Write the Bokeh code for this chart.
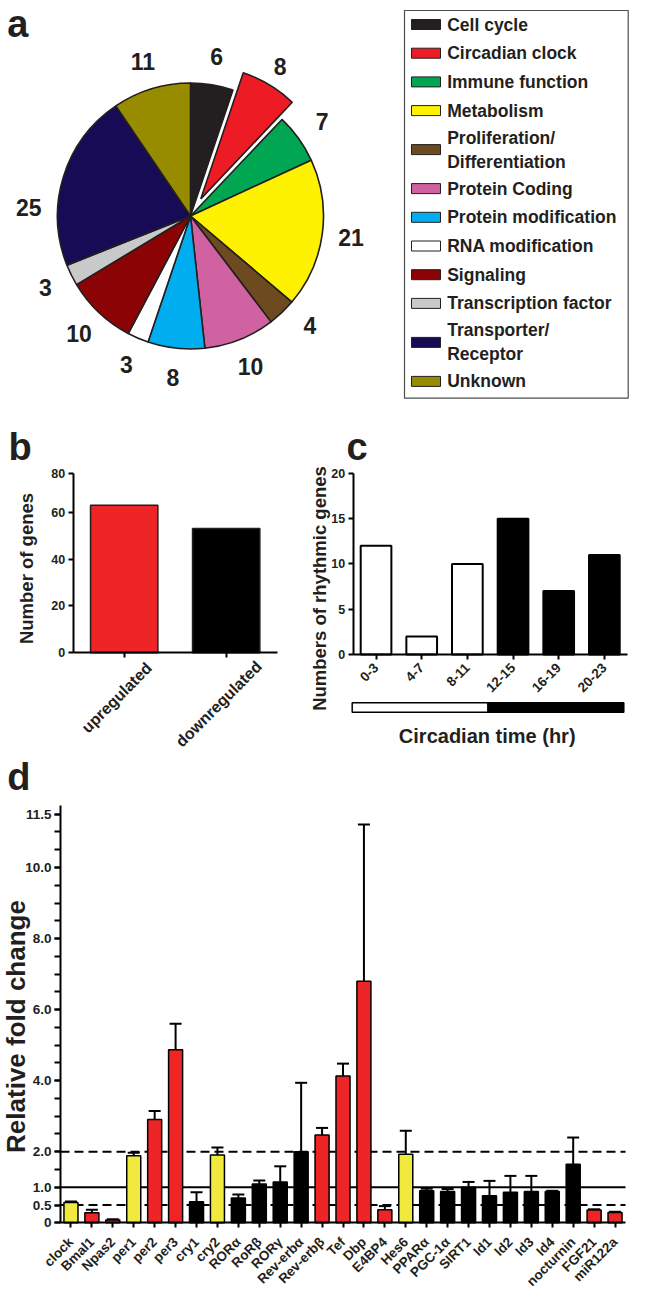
import math
from bokeh.plotting import figure
from bokeh.models import ColumnDataSource, Range1d, FixedTicker, Whisker, TeeHead
from bokeh.layouts import column, row
from bokeh.embed import file_html
from bokeh.resources import INLINE
from bokeh.core.properties import value

FONT = "Liberation Sans"
INK = "#231f20"

# ---------------- data ----------------
# (a) functional categories of the rhythmic genes
pie_categories = ["Cell cycle", "Circadian clock", "Immune function", "Metabolism",
                  "Proliferation/\nDifferentiation", "Protein Coding", "Protein modification",
                  "RNA modification", "Signaling", "Transcription factor",
                  "Transporter/\nReceptor", "Unknown"]
pie_counts = [6, 8, 7, 21, 4, 10, 8, 3, 10, 3, 25, 11]
pie_colors = ["#231f20", "#ed1c24", "#00a651", "#fff200", "#6d4a1f", "#d062a2",
              "#00aeef", "#ffffff", "#8b0304", "#c8c9cb", "#170b56", "#978c00"]
exploded_category = "Circadian clock"

# (b) up / down regulated
regulation = ["upregulated", "downregulated"]
regulation_counts = [63, 53]
regulation_colors = ["#ee2526", "#000000"]
b_tick_labels = ["0", "20", "40", "60", "80"]

# (c) peak phase of rhythmic genes
ct_bins = ["0-3", "4-7", "8-11", "12-15", "16-19", "20-23"]
ct_counts = [12, 2, 10, 15, 7, 11]
ct_colors = ["#ffffff", "#ffffff", "#ffffff", "#000000", "#000000", "#000000"]
c_ticks = [0, 5, 10, 15, 20]
day_night_start = [0, 12]
day_night_end = [12, 24]
day_night_colors = ["#ffffff", "#000000"]

# (d) qPCR relative fold change
genes = ["clock", "Bmal1", "Npas2", "per1", "per2", "per3", "cry1", "cry2",
         "ROR\u03b1", "RoR\u03b2", "ROR\u03b3", "Rev-erb\u03b1", "Rev-erb\u03b2",
         "Tef", "Dbp", "E4BP4", "Hes6", "PPAR\u03b1", "PGC-1\u03b1", "SIRT1",
         "Id1", "Id2", "Id3", "Id4", "nocturnin", "FGF21", "miR122a"]
fold = [0.57, 0.28, 0.08, 1.89, 2.91, 4.87, 0.59, 1.91, 0.70, 1.09, 1.15, 2.00, 2.47,
        4.13, 6.80, 0.37, 1.93, 0.90, 0.88, 1.00, 0.76, 0.86, 0.88, 0.88, 1.65, 0.36, 0.29]
fold_sem = [0.03, 0.09, 0.02, 0.08, 0.24, 0.73, 0.27, 0.21, 0.10, 0.10, 0.44, 1.94, 0.20,
            0.35, 4.41, 0.10, 0.66, 0.06, 0.07, 0.15, 0.42, 0.46, 0.44, 0.02, 0.75, 0.02, 0.02]
Y, R, K = "#f0e93e", "#ee2526", "#000000"
gene_colors = [Y, R, R, Y, R, R, K, Y, K, K, K, K, R,
               R, R, R, Y, K, K, K, K, K, K, K, K, R, R]
d_tick_values = [0, 0.5, 1, 2, 4, 6, 8, 10, 11.5]
d_tick_labels = ["0", "0.5", "1.0", "2.0", "4.0", "6.0", "8.0", "10.0", "11.5"]
d_minor_step = 0.5
threshold_dashed = [2.0, 0.5]
threshold_solid = [1.0]


# ---------------- helpers ----------------
def make_panel(px0, py0, w, h, xref0, xval0, xpx, yref0, yval0, ypx, axes=True):
    """Figure whose frame fills the whole canvas; (xref0, yref0) page pixel <-> data (xval0, yval0)."""
    xr = Range1d(xval0 + (px0 - xref0) / xpx, xval0 + (px0 + w - xref0) / xpx)
    yr = Range1d(yval0 - (py0 + h - yref0) / ypx, yval0 - (py0 - yref0) / ypx)
    kw = dict(width=w, height=h, x_range=xr, y_range=yr, output_backend="svg",
              toolbar_location=None, min_border=0)
    if not axes:
        kw.update(x_axis_type=None, y_axis_type=None)
    p = figure(**kw)
    p.grid.visible = False
    p.outline_line_color = None

    def M(a, b):
        return (xval0 + (a - xref0) / xpx, yval0 - (b - yref0) / ypx)
    return p, M


def style_axis(ax, size, standoff=3):
    ax.axis_line_width = 2
    ax.axis_line_color = "black"
    ax.major_tick_line_width = 2
    ax.major_tick_line_color = "black"
    ax.major_tick_in = 0
    ax.major_tick_out = 5
    ax.minor_tick_line_color = None
    ax.major_label_text_font = FONT
    ax.major_label_text_font_style = "bold"
    ax.major_label_text_font_size = size
    ax.major_label_text_color = INK
    ax.major_label_standoff = standoff


def put_text(p, pos, text, size, angle=0.0, align="center", baseline="middle", lh=1.2):
    p.text(x=[pos[0]], y=[pos[1]], text=[text], angle=angle, text_font=value(FONT),
           text_font_style="bold", text_font_size=size, text_color=INK,
           text_align=align, text_baseline=baseline, text_line_height=lh)


LETTER_SIZE = 38
LETTER_SHIFT = 17  # rendered baseline sits this many px below the anchor


def put_letter(p, M, x_left, baseline_px, letter):
    put_text(p, M(x_left, baseline_px - LETTER_SHIFT), letter, "%dpx" % LETTER_SIZE,
             align="left", baseline="alphabetic", lh=1.0)


# ================= panel a =================
pa, A = make_panel(0, 0, 646, 405, 0, 0, 1.0, 405, 0, 1.0, axes=False)

PIE_CX, PIE_CY = A(190, 215.5)
PIE_R = 133
EXPLODE = 20
LABEL_R = 162
label_nudge = {"Transporter/\nReceptor": -14.0, "Proliferation/\nDifferentiation": -4.0}

total = sum(pie_counts)
wed = dict(x=[], y=[], start=[], end=[], color=[])
lab = dict(x=[], y=[], text=[])
cum = 0
for cat, n, col in zip(pie_categories, pie_counts, pie_colors):
    a0 = 360.0 * cum / total
    a1 = 360.0 * (cum + n) / total
    mid = math.radians((a0 + a1) / 2)
    off = EXPLODE if cat == exploded_category else 0
    wed["x"].append(PIE_CX + off * math.sin(mid))
    wed["y"].append(PIE_CY + off * math.cos(mid))
    wed["start"].append(math.pi / 2 - math.radians(a0))
    wed["end"].append(math.pi / 2 - math.radians(a1))
    wed["color"].append(col)
    la = mid + math.radians(label_nudge.get(cat, 0.0))
    lr = LABEL_R + 0.6 * off
    lab["x"].append(PIE_CX + lr * math.sin(la))
    lab["y"].append(PIE_CY + lr * math.cos(la))
    lab["text"].append(str(n))
    cum += n

pa.wedge(x="x", y="y", radius=PIE_R, start_angle="start", end_angle="end",
         direction="clock", fill_color="color", line_color=INK, line_width=1.6,
         source=ColumnDataSource(wed))
pa.text(x="x", y="y", text="text", source=ColumnDataSource(lab),
        text_font=value(FONT), text_font_style="bold", text_font_size="23px",
        text_color=INK, text_align="center", text_baseline="middle")

# legend box
lx0, ly0 = A(404, 10)
lx1, ly1 = A(627.7, 397.7)
pa.quad(left=lx0, right=lx1, top=ly0, bottom=ly1, fill_color="white",
        line_color="#4d4d4d", line_width=1.2)
row_y = []
yy = 24.0
prev_lines = 1
for i, cat in enumerate(pie_categories):
    nl = cat.count("\n") + 1
    if i > 0:
        yy += 28.7 + 10.3 * ((prev_lines - 1) + (nl - 1))
    row_y.append(yy)
    prev_lines = nl
sw_x, _ = A(425.5, 0)
tx_x, _ = A(446.7, 0)
leg = ColumnDataSource(dict(y=[A(0, v)[1] for v in row_y], text=pie_categories,
                            color=pie_colors))
pa.rect(x=sw_x, y="y", width=29, height=10, fill_color="color", line_color=INK,
        line_width=1, source=leg)
pa.text(x=tx_x, y="y", text="text", source=leg, text_font=value(FONT),
        text_font_style="bold", text_font_size="17.5px", text_color=INK,
        text_align="left", text_baseline="middle", text_line_height=1.2)
put_letter(pa, A, 6.7, 40.5, "a")

# ================= panels b and c (row from y=405 to y=754) =================
ROW_TOP, ROW_H = 405, 349

B_PX = 2.343
B_TOP = (652.3 - 473.3) / B_PX
pb, Bm = make_panel(0, ROW_TOP, 300, ROW_H, 72.7, -0.5, 102.0, 652.3, 0, B_PX)
pb.vbar(x=list(range(len(regulation))), top=regulation_counts, width=0.66,
        fill_color=regulation_colors, line_color=INK, line_width=1.5)
for ax in pb.axis:
    style_axis(ax, "12.5px")
b_pos = [0, 20, 40, 60, B_TOP]
pb.yaxis.fixed_location = -0.5
pb.yaxis.bounds = (0, B_TOP)
pb.yaxis.ticker = FixedTicker(ticks=b_pos)
pb.yaxis.major_label_overrides = {v: t for v, t in zip(b_pos, b_tick_labels)}
pb.xaxis.fixed_location = 0
pb.xaxis.bounds = (-0.5, len(regulation) - 0.5)
pb.xaxis.ticker = FixedTicker(ticks=list(range(len(regulation))))
pb.xaxis.major_label_overrides = {i: "" for i in range(len(regulation))}
# slanted category names, centred a little left of their tick
for i, name in enumerate(regulation):
    tick_px = 72.7 + (i + 0.5) * 102.0
    L = 0.56 * 16 * len(name)
    cy = 657 + 0.707 * (L + 15) / 2
    put_text(pb, Bm(tick_px - 7.5, cy), name, "16px", angle=math.pi / 4)
put_text(pb, Bm(26, 568), "Number of genes", "18.5px", angle=math.pi / 2)
put_letter(pb, Bm, 8, 463, "b")

C_PX = (654 - 472.9) / 20.0
pc, Cm = make_panel(300, ROW_TOP, 346, ROW_H, 352.7, -0.5, 274 / 6.0, 654, 0, C_PX)
pc.vbar(x=list(range(len(ct_bins))), top=ct_counts, width=0.672,
        fill_color=ct_colors, line_color="black", line_width=2)
for ax in pc.axis:
    style_axis(ax, "12.5px")
pc.yaxis.fixed_location = -0.5
pc.yaxis.bounds = (0, 20)
pc.yaxis.ticker = FixedTicker(ticks=c_ticks)
pc.xaxis.fixed_location = 0
pc.xaxis.bounds = (-0.5, len(ct_bins) - 0.5)
pc.xaxis.ticker = FixedTicker(ticks=list(range(len(ct_bins))))
pc.xaxis.major_label_overrides = {i: t for i, t in enumerate(ct_bins)}
pc.xaxis.major_label_orientation = math.pi / 4
pc.xaxis.major_label_text_font_size = "13.5px"
pc.xaxis.major_label_standoff = 6
# light / dark bar (0-24 h)
bar_l, bar_t = Cm(351.7, 702.3)
bar_r, bar_b = Cm(623.3, 711.7)
hx = (bar_r - bar_l) / 24.0
pc.quad(left=[bar_l + h * hx for h in day_night_start],
        right=[bar_l + h * hx for h in day_night_end],
        top=bar_t, bottom=bar_b, fill_color=day_night_colors,
        line_color="black", line_width=1.5)
put_text(pc, Cm(486.7, 735), "Circadian time (hr)", "20px")
put_text(pc, Cm(318.5, 588), "Numbers of rhythmic genes", "18.5px", angle=math.pi / 2)
put_letter(pc, Cm, 346, 463, "c")

# ================= panel d =================
D_TOP_PX = ROW_TOP + ROW_H
D_PX = (1222.3 - 813.7) / 11.5
D_TOP = (1222.3 - 804.5) / D_PX
ng = len(genes)
pdd, Dm = make_panel(0, D_TOP_PX, 646, 1297 - D_TOP_PX, 60, -0.5, 565.0 / ng, 1222.3, 0, D_PX)
pdd.segment(x0=-0.5, x1=ng - 0.5, y0=threshold_dashed, y1=threshold_dashed,
            line_color="black", line_width=2, line_dash="9 5")
pdd.segment(x0=-0.5, x1=ng - 0.5, y0=threshold_solid, y1=threshold_solid,
            line_color="black", line_width=2)
dsrc = ColumnDataSource(dict(x=list(range(ng)), top=fold,
                             upper=[f + s for f, s in zip(fold, fold_sem)],
                             color=gene_colors))
pdd.add_layout(Whisker(source=dsrc, base="x", lower="top", upper="upper",
                       line_color="black", line_width=2, lower_head=None,
                       upper_head=TeeHead(size=12, line_width=2, line_color="black")))
pdd.vbar(x="x", top="top", width=0.67, fill_color="color", line_color="black",
         line_width=1.5, source=dsrc)
for ax in pdd.axis:
    style_axis(ax, "13.5px")
n_minor = int(round(11.5 / d_minor_step)) + 1
pdd.yaxis.fixed_location = -0.5
pdd.yaxis.bounds = (0, D_TOP)
pdd.yaxis.ticker = FixedTicker(ticks=d_tick_values,
                               minor_ticks=[i * d_minor_step for i in range(n_minor)])
pdd.yaxis.major_label_overrides = {v: t for v, t in zip(d_tick_values, d_tick_labels)}
pdd.yaxis.minor_tick_line_color = "black"
pdd.yaxis.minor_tick_line_width = 2
pdd.yaxis.minor_tick_in = 0
pdd.yaxis.minor_tick_out = 6
pdd.yaxis.major_tick_out = 6
pdd.xaxis.fixed_location = 0
pdd.xaxis.bounds = (-0.5, ng - 0.5)
pdd.xaxis.ticker = FixedTicker(ticks=list(range(ng)))
pdd.xaxis.major_label_overrides = {i: t for i, t in enumerate(genes)}
pdd.xaxis.major_label_orientation = math.pi / 4
pdd.xaxis.major_label_standoff = 12
put_text(pdd, Dm(15, 1026), "Relative fold change", "26px", angle=math.pi / 2)
put_letter(pdd, Dm, 6.7, 793.5, "d")

layout = column(pa, row(pb, pc), pdd)
open("out.html", "w").write(file_html(layout, INLINE))
